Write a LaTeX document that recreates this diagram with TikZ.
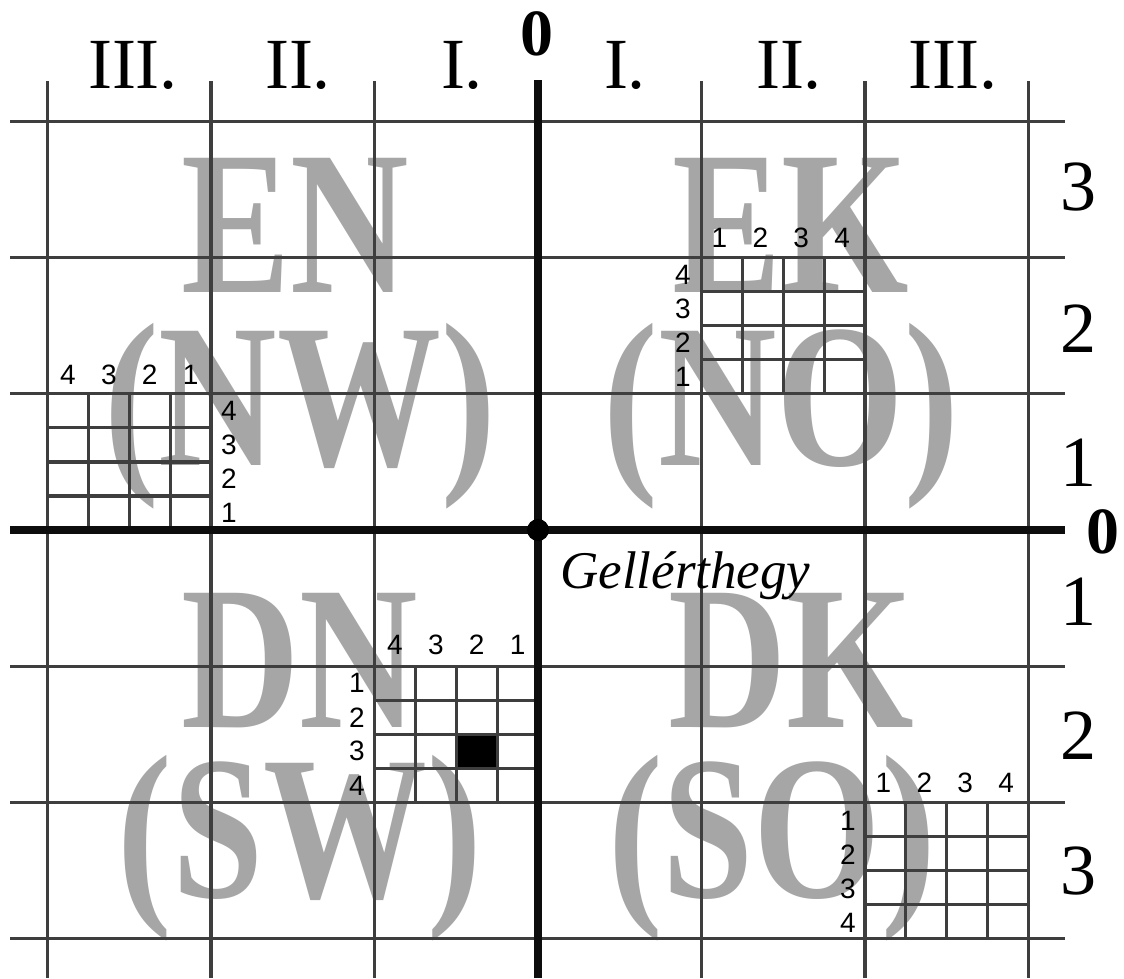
\documentclass[tikz,border=0pt]{standalone}
\usepackage{fontspec}
\setmainfont{Liberation Serif}
\newfontfamily\labsans{Liberation Sans}
\newfontfamily\bigserif[FakeStretch=0.8]{Liberation Serif}
\definecolor{biggray}{RGB}{166,166,166}
\definecolor{linegray}{RGB}{62,62,62}
\begin{document}
\begin{tikzpicture}[x=1pt,y=-1pt,
  thingrid/.style={draw=linegray,line width=3.2pt},
  axisline/.style={draw=black!95,line width=8pt},
  bigletters/.style={text=biggray,font=\bigserif\bfseries\fontsize{205}{205}\selectfont,inner sep=0pt,anchor=base},
  romanlab/.style={font=\fontsize{72}{72}\selectfont,inner sep=0pt,anchor=base},
  zerolab/.style={font=\bfseries\fontsize{66}{66}\selectfont,inner sep=0pt,anchor=base},
  smalllab/.style={font=\labsans\fontsize{28}{28}\selectfont,inner sep=0pt}]
\useasboundingbox (0,0) rectangle (1124,978);
\fill[white] (0,0) rectangle (1124,978);

% big gray quadrant names
\node[bigletters] (en) at (295,292) {EN};
\node[bigletters] (nw) at (300,465) {(NW)};
\node[bigletters] (ek) at (791,292) {EK};
\node[bigletters] (no) at (781,465) {(NO)};
\node[bigletters] (dn) at (300,727) {DN};
\node[bigletters] (sw) at (300,897) {(SW)};
\node[bigletters] (dk) at (791,727) {DK};
\node[bigletters] (so) at (772,897) {(SO)};

% black marked cell
\fill[black] (456.25,734.3) rectangle (497.1,768.35);

% main grid
\foreach \k in {-3,...,3} {
  \pgfmathsetmacro\xx{538+\k*163.5}
  \draw[thingrid] (\xx,81) -- (\xx,978);
  \pgfmathsetmacro\yy{530+\k*136.2}
  \draw[thingrid] (10,\yy) -- (1065,\yy);
}

% sub grids
\foreach \cx/\cy in {47.5/393.8, 701.5/257.6, 374.5/666.2, 865/802.4} {
  \foreach \i in {1,2,3} {
    \draw[thingrid] ({\cx+\i*40.875},\cy) -- ({\cx+\i*40.875},{\cy+136.2});
    \draw[thingrid] (\cx,{\cy+\i*34.05}) -- ({\cx+163.5},{\cy+\i*34.05});
  }
}

% axes
\draw[axisline] (538,80) -- (538,978);
\draw[axisline] (10,530) -- (1065,530);
\node[circle,fill=black,inner sep=0pt,minimum size=22pt] (origin) at (538,530) {};

% top labels
\node[romanlab] (tl3) at (133,88) {III.};
\node[romanlab] (tl2) at (298,88) {II.};
\node[romanlab] (tl1) at (462,88) {I.};
\node[zerolab] (tzero) at (537,55) {0};
\node[romanlab] (tr1) at (625,88) {I.};
\node[romanlab] (tr2) at (789,88) {II.};
\node[romanlab] (tr3) at (953,88) {III.};

% right labels
\node[romanlab] (ru3) at (1078,210) {3};
\node[romanlab] (ru2) at (1078,352) {2};
\node[romanlab] (ru1) at (1078,486) {1};
\node[zerolab] (rzero) at (1103,553) {0};
\node[romanlab] (rd1) at (1078,625) {1};
\node[romanlab] (rd2) at (1078,759) {2};
\node[romanlab] (rd3) at (1078,894) {3};

% place name
\node[font=\itshape\fontsize{53}{53}\selectfont,inner sep=0pt,anchor=base west] (gh) at (560,588) {Gellérthegy};

% small grid labels
\foreach \n [count=\c] in {4,3,2,1} {
  \node[smalllab] (nwt\c) at ({47.5+(\c-0.5)*40.875},375) {\n};
  \node[smalllab] (nwr\c) at (229,{393.8+(\c-0.5)*34.05}) {\n};
  \node[smalllab] (nel\c) at (683,{257.6+(\c-0.5)*34.05}) {\n};
  \node[smalllab] (swt\c) at ({374.5+(\c-0.5)*40.875},645) {\n};
}
\foreach \n [count=\c] in {1,2,3,4} {
  \node[smalllab] (net\c) at ({699+(\c-0.5)*40.875},238) {\n};
  \node[smalllab] (swl\c) at (357,{666.2+(\c-0.5)*34.05}) {\n};
  \node[smalllab] (set\c) at ({863+(\c-0.5)*40.875},783) {\n};
  \node[smalllab] (sel\c) at (848,{804+(\c-0.5)*34.05}) {\n};
}
\end{tikzpicture}
\end{document}
